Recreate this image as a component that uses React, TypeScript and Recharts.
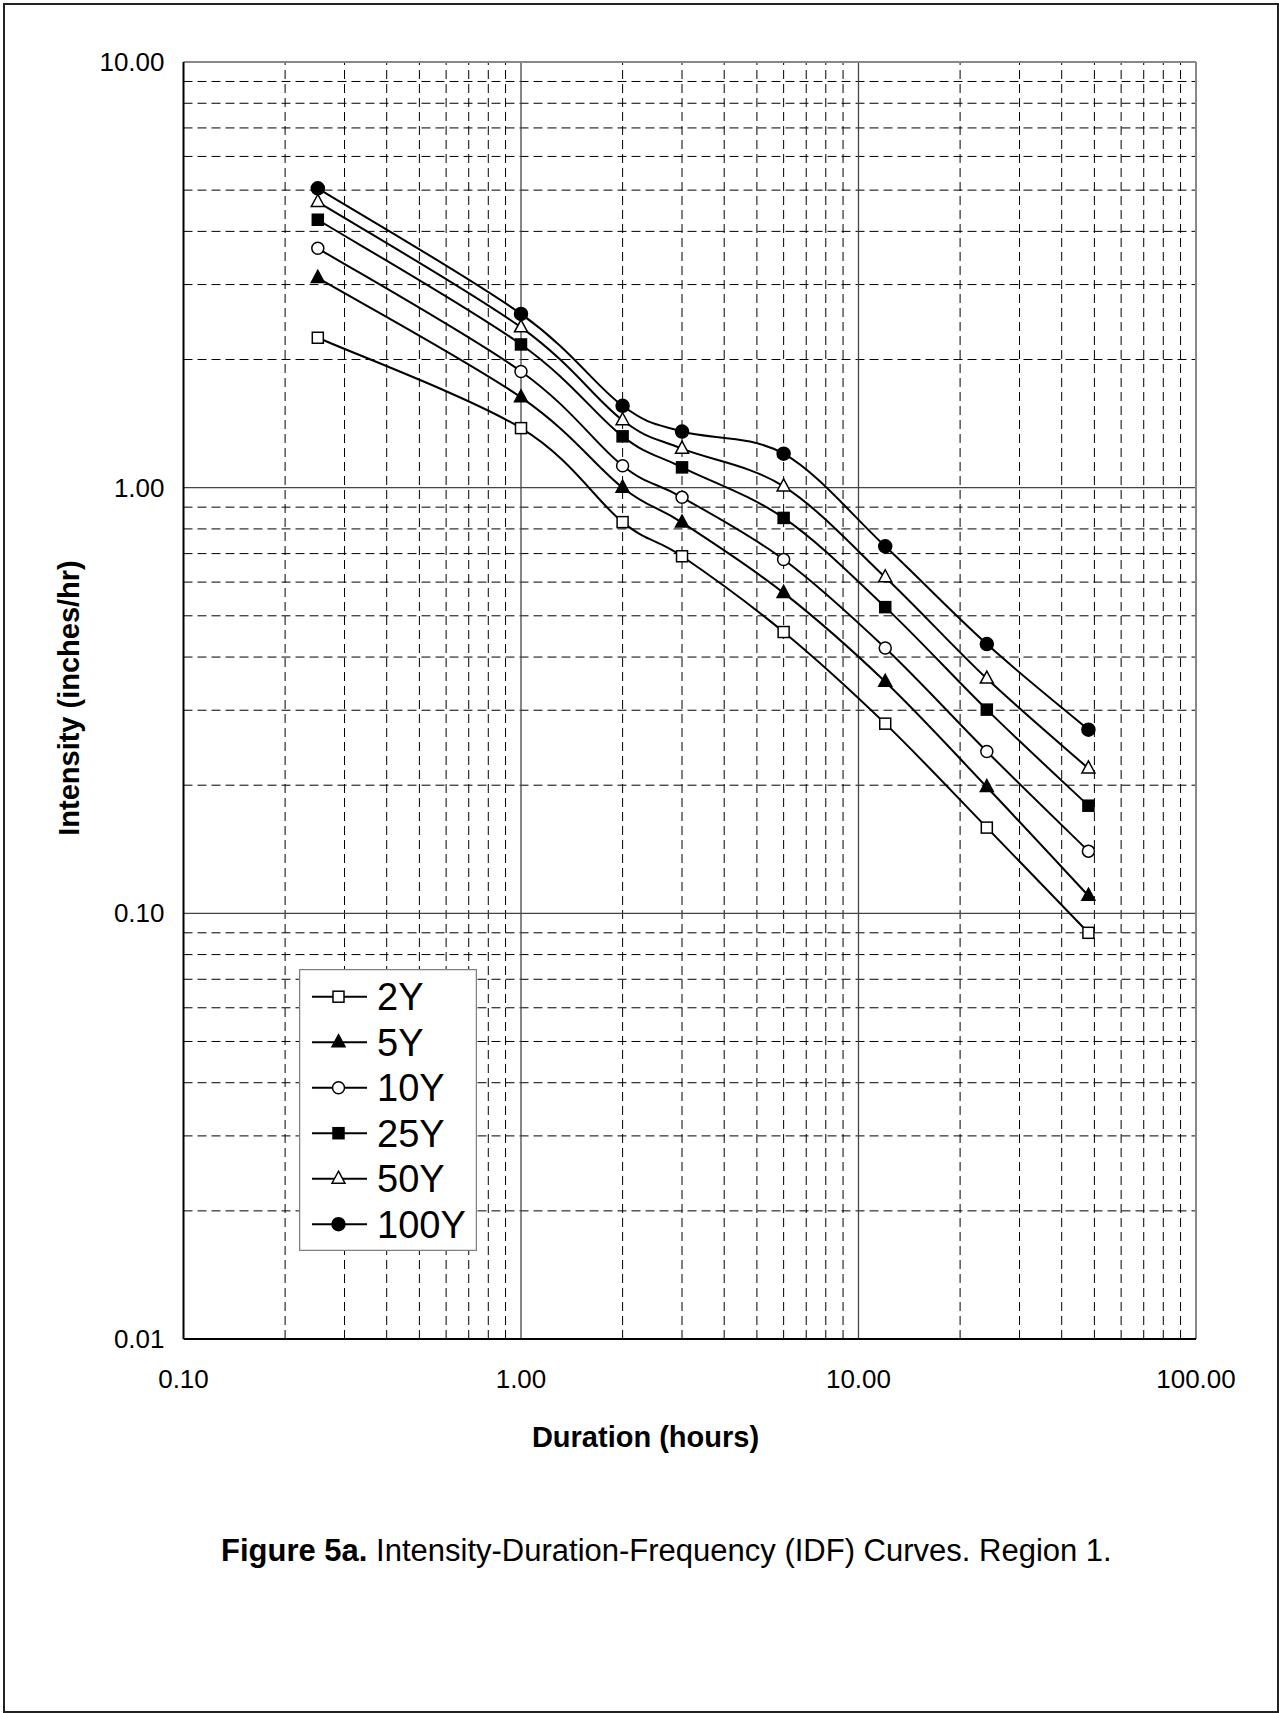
import React from 'react'
import {
  LineChart,
  Line,
  XAxis,
  YAxis,
  ReferenceLine,
  Legend,
} from 'recharts'

// durations (hours) and intensities (inches/hr)
const durations = [0.25, 1, 2, 3, 6, 12, 24, 48]
const y2 = [2.25, 1.38, 0.83, 0.69, 0.458, 0.279, 0.159, 0.09]
const y5 = [3.11, 1.63, 1.0, 0.828, 0.566, 0.35, 0.198, 0.11]
const y10 = [3.65, 1.875, 1.126, 0.949, 0.678, 0.42, 0.24, 0.14]
const y25 = [4.26, 2.17, 1.32, 1.116, 0.849, 0.524, 0.301, 0.179]
const y50 = [4.69, 2.38, 1.44, 1.235, 1.007, 0.616, 0.356, 0.219]
const y100 = [5.05, 2.56, 1.557, 1.355, 1.202, 0.728, 0.429, 0.27]

const xTicks = [0.1, 1, 10, 100]
const yTicks = [0.01, 0.1, 1, 10]
const xMinor = [0.2, 0.3, 0.4, 0.5, 0.6, 0.7, 0.8, 0.9, 2, 3, 4, 5, 6, 7, 8, 9, 20, 30, 40, 50, 60, 70, 80, 90]
const yMinor = [0.02, 0.03, 0.04, 0.05, 0.06, 0.07, 0.08, 0.09, 0.2, 0.3, 0.4, 0.5, 0.6, 0.7, 0.8, 0.9, 2, 3, 4, 5, 6, 7, 8, 9]

const series = [
  { key: 'y2', name: '2Y', values: y2, shape: 'square', filled: false },
  { key: 'y5', name: '5Y', values: y5, shape: 'triangle', filled: true },
  { key: 'y10', name: '10Y', values: y10, shape: 'circle', filled: false },
  { key: 'y25', name: '25Y', values: y25, shape: 'square', filled: true },
  { key: 'y50', name: '50Y', values: y50, shape: 'triangle', filled: false },
  { key: 'y100', name: '100Y', values: y100, shape: 'circle', filled: true },
]

const chartData = durations.map((d, i) => {
  const row: any = { d }
  series.forEach((s) => (row[s.key] = s.values[i]))
  return row
})

const FONT = 'Arial, "Liberation Sans", sans-serif'

// Excel-style smoothed line (Catmull-Rom through the points)
const excelSmooth = (context: any) => {
  let pts: number[][] = []
  return {
    areaStart() {},
    areaEnd() {},
    lineStart() {
      pts = []
    },
    point(x: number, y: number) {
      pts.push([+x, +y])
    },
    lineEnd() {
      const n = pts.length
      if (!n) return
      context.moveTo(pts[0][0], pts[0][1])
      for (let i = 0; i < n - 1; i++) {
        const p0 = pts[Math.max(i - 1, 0)]
        const p1 = pts[i]
        const p2 = pts[i + 1]
        const p3 = pts[Math.min(i + 2, n - 1)]
        context.bezierCurveTo(
          p1[0] + (p2[0] - p0[0]) / 6,
          p1[1] + (p2[1] - p0[1]) / 6,
          p2[0] - (p3[0] - p1[0]) / 6,
          p2[1] - (p3[1] - p1[1]) / 6,
          p2[0],
          p2[1]
        )
      }
    },
  }
}

function Marker({ cx, cy, shape, filled }: any) {
  const fill = filled ? '#000' : '#fff'
  if (shape === 'square') {
    return <rect x={cx - 5.5} y={cy - 5.5} width={11} height={11} fill={fill} stroke="#000" strokeWidth={1.5} />
  }
  if (shape === 'triangle') {
    return (
      <polygon
        points={`${cx},${cy - 7.5} ${cx + 6.5},${cy + 4.5} ${cx - 6.5},${cy + 4.5}`}
        fill={fill}
        stroke="#000"
        strokeWidth={1.5}
      />
    )
  }
  return <circle cx={cx} cy={cy} r={filled ? 6.5 : 6} fill={fill} stroke="#000" strokeWidth={1.5} />
}

const XTick = ({ x, y, payload }: any) => (
  <text x={x} y={y + 49} textAnchor="middle" fontSize={26} fontFamily={FONT} fill="#000">
    {payload.value.toFixed(2)}
  </text>
)

const YTick = ({ x, y, payload }: any) => (
  <text x={x - 19} y={y + 9} textAnchor="end" fontSize={26} fontFamily={FONT} fill="#000">
    {payload.value.toFixed(2)}
  </text>
)

const LegendBox = () => (
  <svg width={178} height={282} style={{ display: 'block' }}>
    <rect x={0.5} y={0.5} width={177} height={281} fill="#fff" stroke="#808080" strokeWidth={1.5} />
    {series.map((s, i) => {
      const cy = 27.7 + i * 45.5
      return (
        <g key={s.key}>
          <line x1={13} x2={68} y1={cy} y2={cy} stroke="#000" strokeWidth={2} />
          <Marker cx={39.5} cy={cy} shape={s.shape} filled={s.filled} />
          <text x={78} y={cy + 13.5} fontSize={38} fontFamily={FONT} fill="#000">
            {s.name}
          </text>
        </g>
      )
    })}
  </svg>
)

export default function App() {
  return (
    <div style={{ position: 'absolute', left: 0, top: 0, width: 1279, height: 1713, background: '#fff' }}>
      <LineChart
        width={1279}
        height={1713}
        data={chartData}
        margin={{ top: 62, right: 83, bottom: 0, left: 0 }}
      >
        <XAxis
          dataKey="d"
          type="number"
          scale="log"
          domain={[0.1, 100]}
          ticks={xTicks}
          allowDataOverflow
          height={374}
          tickSize={0}
          tickMargin={0}
          tick={<XTick />}
          tickLine={false}
          axisLine={{ stroke: '#000', strokeWidth: 2 }}
        />
        <YAxis
          type="number"
          scale="log"
          domain={[0.01, 10]}
          ticks={yTicks}
          allowDataOverflow
          width={183.5}
          tickSize={0}
          tickMargin={0}
          tick={<YTick />}
          tickLine={false}
          axisLine={{ stroke: '#000', strokeWidth: 2 }}
        />
        {xMinor.map((v) => (
          <ReferenceLine key={`xm${v}`} x={v} stroke="#000" strokeWidth={1} strokeDasharray="9 5" />
        ))}
        {yMinor.map((v) => (
          <ReferenceLine key={`ym${v}`} y={v} stroke="#000" strokeWidth={1} strokeDasharray="9 5" />
        ))}
        <ReferenceLine x={1} stroke="#444" strokeWidth={1.3} />
        <ReferenceLine x={10} stroke="#444" strokeWidth={1.3} />
        <ReferenceLine y={1} stroke="#444" strokeWidth={1.3} />
        <ReferenceLine y={0.1} stroke="#444" strokeWidth={1.3} />
        <ReferenceLine x={100} stroke="#888" strokeWidth={2} />
        <ReferenceLine y={10} stroke="#888" strokeWidth={2} />
        {series.map((s) => (
          <Line
            key={s.key}
            dataKey={s.key}
            name={s.name}
            type={excelSmooth as any}
            stroke="#000"
            strokeWidth={2}
            isAnimationActive={false}
            dot={(p: any) => (
              <Marker key={`${s.key}-${p.index}`} cx={p.cx} cy={p.cy} shape={s.shape} filled={s.filled} />
            )}
            activeDot={false}
          />
        ))}
        <Legend
          layout="vertical"
          align="center"
          verticalAlign="middle"
          content={<LegendBox />}
          wrapperStyle={{ position: 'absolute', left: 298.7, top: 969, width: 178, height: 282 }}
        />
      </LineChart>
      <svg
        width={1279}
        height={1713}
        style={{ position: 'absolute', left: 0, top: 0, pointerEvents: 'none' }}
      >
        <rect x={4} y={4} width={1274} height={1708} fill="none" stroke="#222" strokeWidth={2} />
        <text
          x={69}
          y={698}
          transform="rotate(-90 69 698)"
          textAnchor="middle"
          dominantBaseline="central"
          fontSize={29}
          fontWeight="bold"
          fontFamily={FONT}
          fill="#000"
        >
          Intensity (inches/hr)
        </text>
        <text x={645.5} y={1447} textAnchor="middle" fontSize={29} fontWeight="bold" fontFamily={FONT} fill="#000">
          Duration (hours)
        </text>
        <text x={221} y={1561} fontSize={31} fontFamily={FONT} fill="#000">
          <tspan fontWeight="bold">Figure 5a.</tspan>
          <tspan> Intensity-Duration-Frequency (IDF) Curves. Region 1.</tspan>
        </text>
      </svg>
    </div>
  )
}
